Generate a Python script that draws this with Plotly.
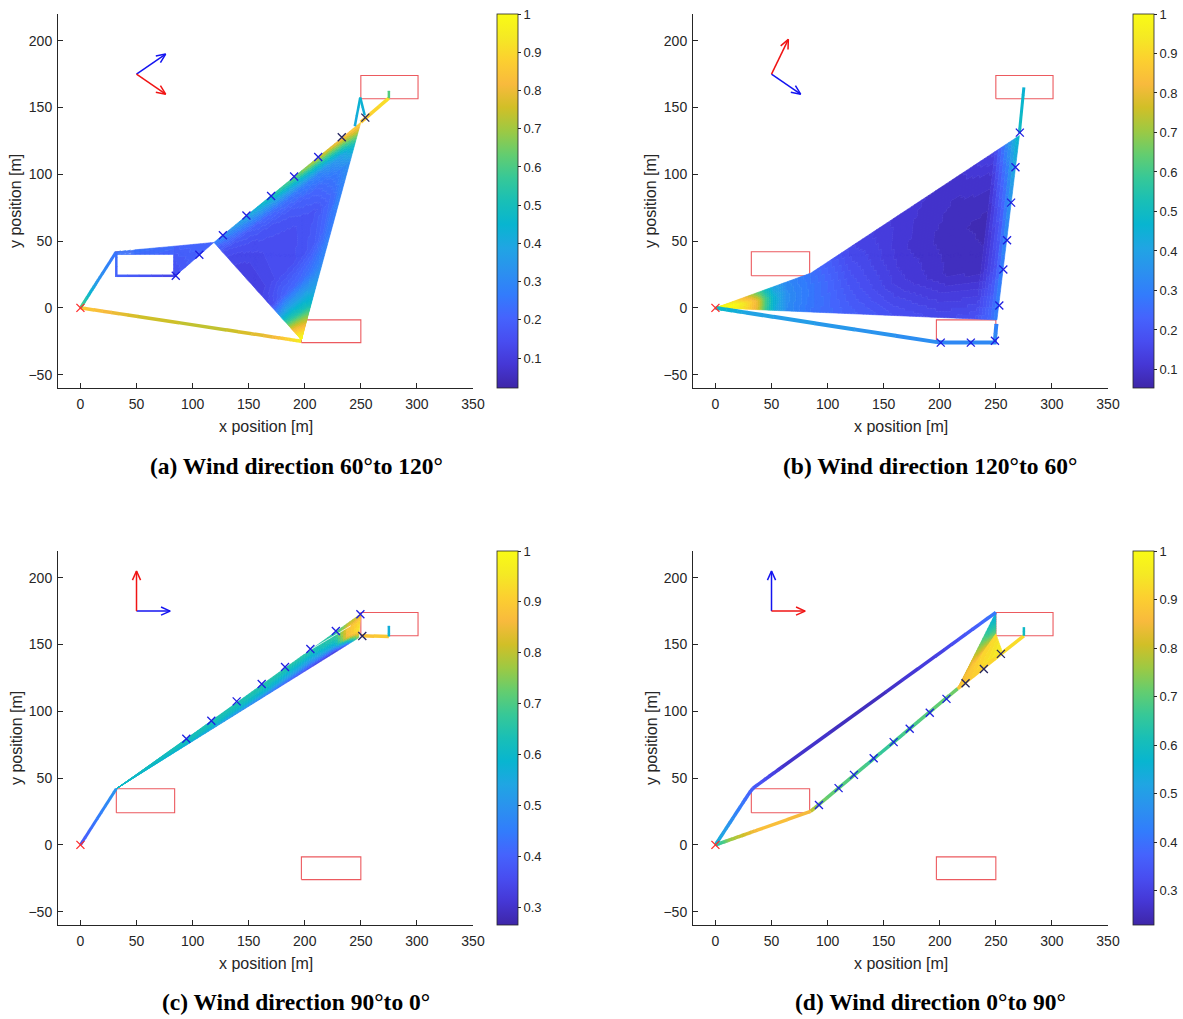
import numpy as np
import plotly.graph_objects as go
from collections import defaultdict

W, H = 1183, 1019

# ---------------- data ----------------
X_TICKS = [0, 50, 100, 150, 200, 250, 300, 350]
Y_TICKS = [-50, 0, 50, 100, 150, 200]
X_RANGE = [-20, 350]
Y_RANGE = [-60, 220]

CB_MIN = {"a": 0.022, "b": 0.053, "c": 0.265, "d": 0.229}
CB_MAX = 1.0
CB_TICKS_AB = [0.1, 0.2, 0.3, 0.4, 0.5, 0.6, 0.7, 0.8, 0.9, 1.0]
CB_TICKS_CD = [0.3, 0.4, 0.5, 0.6, 0.7, 0.8, 0.9, 1.0]

CAPTIONS = {
    "a": "(a) Wind direction 60°to 120°",
    "b": "(b) Wind direction 120°to 60°",
    "c": "(c) Wind direction 90°to 0°",
    "d": "(d) Wind direction 0°to 90°",
}

# obstacles (red rectangles)
OBS_X0 = [32, 197, 250]
OBS_X1 = [84, 250, 301]
OBS_Y0 = [24, -26, 156.5]
OBS_Y1 = [42, -9, 174]

START_X = [0]
START_Y = [0]

# wind direction arrows: origin, length, angles (deg) of blue / red arrows
ARROW_X0, ARROW_Y0, ARROW_LEN = 50, 175, 30
ARROW_BLUE_ANG = {"a": 30, "b": -30, "c": 0, "d": 90}
ARROW_RED_ANG = {"a": -30, "b": 60, "c": 90, "d": 0}

# ---- panel (a) ----
A_L1_X = [0, 8, 16, 32];            A_L1_Y = [0, 10.5, 21, 42];        A_L1_V = [0.62, 0.45, 0.33, 0.24]
A_L2_X = [32, 32, 85];              A_L2_Y = [42, 24, 24];             A_L2_V = [0.24, 0.2, 0.12]
A_L3_X = [0, 50, 120, 170, 197];    A_L3_Y = [0, -6.3, -15.2, -21.6, -25]; A_L3_V = [0.86, 0.76, 0.73, 0.8, 0.95]
A_L4_X = [244.6, 249.5, 253.5];     A_L4_Y = [136, 157.5, 144];        A_L4_V = [0.4, 0.45, 0.42]
A_L5_X = [250, 275];                A_L5_Y = [139, 157];               A_L5_V = [0.86, 0.92]
A_L6_X = [275, 275];                A_L6_Y = [157, 162.5];             A_L6_V = [0.62, 0.6]

A_F1A_C = [(32, 40), (83, 40), (32, 42.2), (83, 46.1)]
A_F1A_T = [0, 1]; A_F1A_S = [0, 1]
A_F1A_V = [[0.24, 0.2], [0.26, 0.22]]

A_F1B_C = [(83, 46.1), (83, 24), (119, 49), (85, 24)]
A_F1B_T = [0, 1]; A_F1B_S = [0, 1]
A_F1B_V = [[0.2, 0.14], [0.22, 0.17]]

A_F2_C = [(197, -24), (197, -24), (119, 49), (250, 139)]
A_F2_T = [0, 0.04, 0.1, 0.17, 0.25, 0.35, 0.5, 0.7, 0.82, 0.9, 0.95, 1.0]
A_F2_S = [0, 0.25, 0.5, 0.75, 0.9, 1.0]
A_F2_V = [
    [1.0, 1.0, 1.0, 1.0, 1.0, 1.0],
    [0.95, 0.93, 0.92, 0.9, 0.9, 0.9],
    [0.8, 0.78, 0.75, 0.72, 0.7, 0.68],
    [0.58, 0.55, 0.52, 0.5, 0.48, 0.45],
    [0.35, 0.38, 0.38, 0.38, 0.37, 0.36],
    [0.14, 0.2, 0.22, 0.25, 0.28, 0.3],
    [0.11, 0.14, 0.15, 0.18, 0.23, 0.28],
    [0.11, 0.14, 0.15, 0.17, 0.22, 0.29],
    [0.13, 0.16, 0.18, 0.22, 0.27, 0.33],
    [0.15, 0.2, 0.25, 0.3, 0.38, 0.5],
    [0.2, 0.3, 0.4, 0.5, 0.6, 0.7],
    [0.28, 0.42, 0.6, 0.78, 0.86, 0.9],
]

A_MK_X = [85, 106, 127, 148, 170, 190.5, 212, 233, 254]
A_MK_Y = [24, 39.7, 54.4, 69.1, 83.8, 98.3, 113, 127.7, 142.4]
A_MK_DARK = 2

# ---- panel (b) ----
B_L1_X = [0, 30, 200, 249, 250.5];  B_L1_Y = [0, -3.9, -26, -26, -12]; B_L1_V = [0.5, 0.4, 0.33, 0.33, 0.3]
B_L2_X = [271, 275];                B_L2_Y = [131, 165];                B_L2_V = [0.5, 0.46]

B_F1_C = [(0, 0), (0, 0), (85, -3.1), (85, 26)]
B_F1_T = [0, 0.05, 0.2, 0.35, 0.44, 0.52, 0.61, 0.75, 1.0]
B_F1_S = [0, 0.5, 1]
B_F1_V = [
    [0.95, 0.95, 0.95],
    [1.0, 1.0, 0.98],
    [0.98, 1.0, 0.9],
    [0.88, 0.9, 0.75],
    [0.78, 0.8, 0.62],
    [0.6, 0.62, 0.5],
    [0.45, 0.46, 0.4],
    [0.33, 0.34, 0.32],
    [0.27, 0.28, 0.27],
]

B_F2_C = [(85, -3.1), (85, 26), (251, -9), (271, 129)]
B_F2_T = [0, 0.2, 0.45, 0.7, 0.88, 0.96, 1.0]
B_F2_S = [0, 0.3, 0.6, 0.85, 1.0]
B_F2_V = [
    [0.27, 0.28, 0.28, 0.27, 0.26],
    [0.22, 0.2, 0.18, 0.16, 0.15],
    [0.18, 0.13, 0.11, 0.11, 0.11],
    [0.16, 0.09, 0.08, 0.09, 0.1],
    [0.18, 0.08, 0.07, 0.1, 0.14],
    [0.24, 0.18, 0.22, 0.3, 0.38],
    [0.3, 0.32, 0.37, 0.44, 0.5],
]

B_MK_X = [200.9, 227.7, 249.2, 253.1, 256.7, 260, 263.6, 267.5, 271.4]
B_MK_Y = [-26, -26, -24.6, 1.8, 28.7, 50.6, 78.8, 105.3, 131.2]
B_MK_DARK = 0

# ---- panel (c) ----
C_L1_X = [0, 16, 32];     C_L1_Y = [0, 21, 42];        C_L1_V = [0.38, 0.45, 0.5]
C_L2_X = [251, 275];      C_L2_Y = [156.5, 156];       C_L2_V = [0.88, 0.9]
C_L3_X = [275, 275];      C_L3_Y = [156, 164];         C_L3_V = [0.58, 0.56]
C_WHITE_X = [199, 241];   C_WHITE_Y = [143, 164]

C_F1_C = [(32, 42), (32, 42), (248, 155), (250, 173)]
C_F1_T = [0, 0.3, 0.6, 0.8, 0.9, 0.95, 1.0]
C_F1_S = [0, 0.35, 0.7, 1.0]
C_F1_V = [
    [0.6, 0.6, 0.6, 0.6],
    [0.55, 0.61, 0.63, 0.63],
    [0.45, 0.58, 0.63, 0.65],
    [0.34, 0.5, 0.6, 0.65],
    [0.3, 0.56, 0.66, 0.67],
    [0.36, 0.85, 0.88, 0.78],
    [0.75, 0.95, 0.92, 0.8],
]

C_MK_X = [94.4, 116.7, 139.3, 161.6, 182.4, 205, 227.7, 249.6, 251.3]
C_MK_Y = [79.4, 92.9, 107.4, 120.4, 133.1, 146.6, 160.1, 172.6, 156.4]
C_MK_DARK = 1

# ---- panel (d) ----
D_L1_X = [0, 16, 32.7, 60, 140, 200, 235, 250]
D_L1_Y = [0, 20.6, 42, 58.6, 107.2, 143.6, 164.9, 174]
D_L1_V = [0.55, 0.45, 0.36, 0.27, 0.25, 0.3, 0.37, 0.42]
D_L2_X = [0, 12, 40, 84.8];        D_L2_Y = [0, 3.5, 11.8, 25];      D_L2_V = [0.6, 0.75, 0.87, 0.85]
D_L3_X = [84.8, 92, 150, 216];     D_L3_Y = [25, 30, 70.7, 117];     D_L3_V = [0.8, 0.72, 0.66, 0.72]
D_L4_X = [216, 256, 275];          D_L4_Y = [117, 144, 156.5];       D_L4_V = [0.88, 0.93, 0.93]
D_L5_X = [275, 275];               D_L5_Y = [156.5, 163];            D_L5_V = [0.6, 0.58]

D_F1_C = [(216, 117), (216, 117), (256, 144), (250, 158)]
D_F1_T = [0, 0.5, 1]; D_F1_S = [0, 1]
D_F1_V = [[0.85, 0.85], [0.92, 0.9], [0.97, 0.92]]

D_F2_C = [(216, 117), (216, 117), (250, 158), (250, 174)]
D_F2_T = [0, 0.4, 0.65, 0.85, 1.0]; D_F2_S = [0, 0.5, 1]
D_F2_V = [[0.85, 0.85, 0.85], [0.9, 0.85, 0.8], [0.85, 0.75, 0.68],
          [0.78, 0.65, 0.58], [0.7, 0.6, 0.52]]

D_MK_X = [92.3, 109.8, 123.5, 141.1, 158.9, 173.2, 191.1, 206, 223, 239.3, 254.5]
D_MK_Y = [29.8, 42.5, 52.4, 64.9, 76.9, 86.9, 98.9, 109.3, 121, 131.7, 143]
D_MK_DARK = 3

# ---------------- style ----------------
PARULA = [
    (0.2422, 0.1504, 0.6603), (0.2706, 0.2147, 0.8364), (0.2813, 0.3006, 0.9414),
    (0.2699, 0.3892, 0.9906), (0.1963, 0.4847, 0.9892), (0.1687, 0.5703, 0.9359),
    (0.1248, 0.6459, 0.8883), (0.0297, 0.7082, 0.8163), (0.0964, 0.7500, 0.7120),
    (0.2161, 0.7843, 0.5923), (0.3909, 0.8029, 0.4354), (0.6174, 0.7876, 0.2612),
    (0.8203, 0.7498, 0.1535), (0.9728, 0.7298, 0.2394), (0.9892, 0.8136, 0.1885),
    (0.9597, 0.9135, 0.1423), (0.9769, 0.9839, 0.0805),
]
PAR = np.array(PARULA)
PPOS = np.linspace(0, 1, len(PARULA))
COLORSCALE = [[float(p), "rgb(%d,%d,%d)" % tuple(int(round(c * 255)) for c in col)]
              for p, col in zip(PPOS, PARULA)]


def parula_hex(u):
    u = min(max(u, 0.0), 1.0)
    r = np.interp(u, PPOS, PAR[:, 0]); g = np.interp(u, PPOS, PAR[:, 1]); b = np.interp(u, PPOS, PAR[:, 2])
    return "rgb(%d,%d,%d)" % (int(round(r * 255)), int(round(g * 255)), int(round(b * 255)))


NB = 64
AX = {"a": ("x", "y"), "b": ("x2", "y2"), "c": ("x3", "y3"), "d": ("x4", "y4")}
DOM = {"a": ([58, 473], [14, 388]), "b": ([693, 1108], [14, 388]),
       "c": ([58, 473], [551, 925]), "d": ([693, 1108], [551, 925])}
CB_X = {"a": 497, "b": 1133, "c": 497, "d": 1133}
SX = 415.0 / 370.0
SY = 374.0 / 280.0
FONT = "Liberation Sans, Arial, Helvetica, sans-serif"
AXC = "#262626"

fills = {p: defaultdict(list) for p in AX}
lines = {p: defaultdict(list) for p in AX}


def bucket(p, v):
    u = (v - CB_MIN[p]) / (CB_MAX - CB_MIN[p])
    u = min(max(u, 0.0), 1.0)
    return int(round(u * (NB - 1)))


def add_patch(p, corners, T, S, V, nt, ns):
    P0, P1, Q0, Q1 = [np.array(c, dtype=float) for c in corners]
    T = np.array(T, float); S = np.array(S, float); V = np.array(V, float)

    def pos(t, s):
        return (1 - t) * ((1 - s) * P0 + s * P1) + t * ((1 - s) * Q0 + s * Q1)

    def val(t, s):
        row = [np.interp(s, S, V[i]) for i in range(len(T))]
        return np.interp(t, T, row)

    tt = np.linspace(0, 1, nt + 1); ss = np.linspace(0, 1, ns + 1)
    for i in range(nt):
        for j in range(ns):
            t0, t1, s0, s1 = tt[i], tt[i + 1], ss[j], ss[j + 1]
            pts = [pos(t0, s0), pos(t0, s1), pos(t1, s1), pos(t1, s0)]
            k = bucket(p, val(0.5 * (t0 + t1), 0.5 * (s0 + s1)))
            fills[p][k].append(pts)


def add_path(p, xs, ys, vs, width, step=1.0):
    pts, vals = [], []
    for i in range(len(xs) - 1):
        x0, y0, x1, y1 = xs[i], ys[i], xs[i + 1], ys[i + 1]
        n = max(1, int(np.ceil(np.hypot(x1 - x0, y1 - y0) / step)))
        for j in range(n):
            a = j / n
            pts.append(np.array([x0 + a * (x1 - x0), y0 + a * (y1 - y0)]))
            vals.append(vs[i] + a * (vs[i + 1] - vs[i]))
    pts.append(np.array([xs[-1], ys[-1]], float)); vals.append(vs[-1])
    kcur = bucket(p, 0.5 * (vals[0] + vals[1]))
    run = [pts[0]]
    for i in range(len(pts) - 1):
        k = bucket(p, 0.5 * (vals[i] + vals[i + 1]))
        if k != kcur:
            ov = pts[i] + 0.4 * (pts[i + 1] - pts[i])
            lines[p][(kcur, width)].append(run + [ov])
            run = [pts[i]]
            kcur = k
        run.append(pts[i + 1])
    lines[p][(kcur, width)].append(run)


# ----- build geometry -----
add_patch("a", A_F1A_C, A_F1A_T, A_F1A_S, A_F1A_V, 6, 12)
add_patch("a", A_F1B_C, A_F1B_T, A_F1B_S, A_F1B_V, 12, 8)
add_patch("a", A_F2_C, A_F2_T, A_F2_S, A_F2_V, 80, 40)
add_path("a", A_L1_X, A_L1_Y, A_L1_V, 3)
add_path("a", A_L2_X, A_L2_Y, A_L2_V, 2.5)
add_path("a", A_L3_X, A_L3_Y, A_L3_V, 3.5)
add_path("a", A_L4_X, A_L4_Y, A_L4_V, 2.5)
add_path("a", A_L5_X, A_L5_Y, A_L5_V, 3.5)
add_path("a", A_L6_X, A_L6_Y, A_L6_V, 2.5)

add_patch("b", B_F1_C, B_F1_T, B_F1_S, B_F1_V, 50, 10)
add_patch("b", B_F2_C, B_F2_T, B_F2_S, B_F2_V, 60, 45)
add_path("b", B_L1_X, B_L1_Y, B_L1_V, 4)
add_path("b", B_L2_X, B_L2_Y, B_L2_V, 3)

add_patch("c", C_F1_C, C_F1_T, C_F1_S, C_F1_V, 90, 14)
add_path("c", C_L1_X, C_L1_Y, C_L1_V, 3)
add_path("c", C_L2_X, C_L2_Y, C_L2_V, 3.5)
add_path("c", C_L3_X, C_L3_Y, C_L3_V, 2.5)

add_patch("d", D_F1_C, D_F1_T, D_F1_S, D_F1_V, 20, 10)
add_patch("d", D_F2_C, D_F2_T, D_F2_S, D_F2_V, 24, 12)
add_path("d", D_L1_X, D_L1_Y, D_L1_V, 3.5)
add_path("d", D_L2_X, D_L2_Y, D_L2_V, 3.5)
add_path("d", D_L3_X, D_L3_Y, D_L3_V, 3.5)
add_path("d", D_L4_X, D_L4_Y, D_L4_V, 3.5)
add_path("d", D_L5_X, D_L5_Y, D_L5_V, 2.5)

MARKERS = {"a": (A_MK_X, A_MK_Y, A_MK_DARK), "b": (B_MK_X, B_MK_Y, B_MK_DARK),
           "c": (C_MK_X, C_MK_Y, C_MK_DARK), "d": (D_MK_X, D_MK_Y, D_MK_DARK)}

fig = go.Figure()

for p, (xa, ya) in AX.items():
    rx, ry = [], []
    for x0, x1, y0, y1 in zip(OBS_X0, OBS_X1, OBS_Y0, OBS_Y1):
        rx += [x0, x1, x1, x0, x0, None]
        ry += [y0, y0, y1, y1, y0, None]
    fig.add_trace(go.Scatter(x=rx, y=ry, mode="lines", line=dict(color="rgb(236,90,95)", width=1.1),
                             xaxis=xa, yaxis=ya, hoverinfo="skip"))
    for k in sorted(fills[p]):
        col = parula_hex(k / (NB - 1))
        fx, fy = [], []
        for pts in fills[p][k]:
            for q in pts:
                fx.append(round(float(q[0]), 2)); fy.append(round(float(q[1]), 2))
            fx += [round(float(pts[0][0]), 2), None]; fy += [round(float(pts[0][1]), 2), None]
        fig.add_trace(go.Scatter(x=fx, y=fy, mode="lines", fill="toself", fillcolor=col,
                                 line=dict(color=col, width=0.6), xaxis=xa, yaxis=ya, hoverinfo="skip"))
    for (k, wdt) in sorted(lines[p], key=lambda kw: (-kw[1], kw[0])):
        col = parula_hex(k / (NB - 1))
        lx, ly = [], []
        for run in lines[p][(k, wdt)]:
            for q in run:
                lx.append(round(float(q[0]), 2)); ly.append(round(float(q[1]), 2))
            lx.append(None); ly.append(None)
        fig.add_trace(go.Scatter(x=lx, y=ly, mode="lines", line=dict(color=col, width=wdt),
                                 xaxis=xa, yaxis=ya, hoverinfo="skip"))
    if p == "c":
        fig.add_trace(go.Scatter(x=C_WHITE_X, y=C_WHITE_Y, mode="lines",
                                 line=dict(color="rgba(255,255,255,0.75)", width=1),
                                 xaxis=xa, yaxis=ya, hoverinfo="skip"))
    mx, my, nd = MARKERS[p]
    cols = ["#1e1ee0"] * (len(mx) - nd) + ["#252560"] * nd
    fig.add_trace(go.Scatter(x=mx, y=my, mode="markers",
                             marker=dict(symbol="x-thin", size=8, line=dict(width=1.3, color=cols)),
                             xaxis=xa, yaxis=ya, hoverinfo="skip"))
    fig.add_trace(go.Scatter(x=START_X, y=START_Y, mode="markers",
                             marker=dict(symbol="x-thin", size=8, line=dict(width=1.3, color="#ff2a2a")),
                             xaxis=xa, yaxis=ya, hoverinfo="skip"))
    for ang, col in ((ARROW_BLUE_ANG[p], "#1414f0"), (ARROW_RED_ANG[p], "#f01414")):
        a = np.radians(ang)
        tx, ty = ARROW_X0 + ARROW_LEN * np.cos(a), ARROW_Y0 + ARROW_LEN * np.sin(a)
        dxp, dyp = np.cos(a) * ARROW_LEN * SX, np.sin(a) * ARROW_LEN * SY
        nrm = np.hypot(dxp, dyp); ux, uy = dxp / nrm, dyp / nrm
        hl, ha = 10.0, np.radians(24)
        heads = []
        for sg in (1, -1):
            c, s = np.cos(sg * ha), np.sin(sg * ha)
            bx, by = -(ux * c - uy * s), -(ux * s + uy * c)
            heads.append((tx + hl * bx / SX, ty + hl * by / SY))
        fig.add_trace(go.Scatter(x=[ARROW_X0, tx, None, heads[0][0], tx, heads[1][0]],
                                 y=[ARROW_Y0, ty, None, heads[0][1], ty, heads[1][1]],
                                 mode="lines", line=dict(color=col, width=1.5),
                                 xaxis=xa, yaxis=ya, hoverinfo="skip"))
    ticks = CB_TICKS_AB if p in ("a", "b") else CB_TICKS_CD
    (x0p, x1p), (y0p, y1p) = DOM[p]
    fig.add_trace(go.Scatter(
        x=[-100], y=[-100], mode="markers", xaxis=xa, yaxis=ya, hoverinfo="skip",
        marker=dict(size=1, color=[CB_MIN[p]], cmin=CB_MIN[p], cmax=CB_MAX, colorscale=COLORSCALE,
                    showscale=True,
                    colorbar=dict(x=CB_X[p] / W, xanchor="left", y=1 - y1p / H, yanchor="bottom",
                                  len=(y1p - y0p) / H, lenmode="fraction", thickness=21,
                                  thicknessmode="pixels", xpad=0, ypad=0, outlinewidth=0.8,
                                  outlinecolor=AXC, ticks="outside", ticklen=3, tickcolor=AXC,
                                  tickvals=ticks, ticktext=[("%g" % t) for t in ticks],
                                  tickfont=dict(family=FONT, size=13, color=AXC)))))

layout = dict(width=W, height=H, autosize=False,
              margin=dict(l=0, r=0, t=0, b=0, pad=0, autoexpand=False),
              paper_bgcolor="white", plot_bgcolor="white", showlegend=False)
annotations = []
for idx, p in enumerate(["a", "b", "c", "d"]):
    (x0p, x1p), (y0p, y1p) = DOM[p]
    sfx = "" if idx == 0 else str(idx + 1)
    common = dict(showgrid=False, zeroline=False, showline=True, linecolor=AXC, linewidth=1,
                  ticks="inside", ticklen=5, tickwidth=0.8, tickcolor=AXC, fixedrange=True,
                  tickfont=dict(family=FONT, size=14, color=AXC))
    layout["xaxis" + sfx] = dict(domain=[x0p / W, x1p / W], range=X_RANGE, tickvals=X_TICKS,
                                 anchor="y" + sfx, ticklabelstandoff=3, **common)
    layout["yaxis" + sfx] = dict(domain=[1 - y1p / H, 1 - y0p / H], range=Y_RANGE, tickvals=Y_TICKS,
                                 anchor="x" + sfx, ticklabelstandoff=2, **common)
    cx = (x0p + x1p) / 2
    cy = (y0p + y1p) / 2
    annotations.append(dict(text="x position [m]", x=cx / W, y=1 - (y1p + 38) / H, xref="paper",
                            yref="paper", showarrow=False, xanchor="center", yanchor="middle",
                            font=dict(family=FONT, size=16, color=AXC)))
    annotations.append(dict(text="y position [m]", x=(x0p - 42) / W, y=1 - cy / H, xref="paper",
                            yref="paper", showarrow=False, xanchor="center", yanchor="middle",
                            textangle=-90, font=dict(family=FONT, size=16, color=AXC)))
    capx = 296 if p in ("a", "c") else 930
    capy = 466 if p in ("a", "b") else 1002
    annotations.append(dict(text="<b>%s</b>" % CAPTIONS[p], x=capx / W, y=1 - capy / H, xref="paper",
                            yref="paper", showarrow=False, xanchor="center", yanchor="middle",
                            font=dict(family="Liberation Serif, Times New Roman, serif", size=23.5,
                                      color="black")))
layout["annotations"] = annotations
fig.update_layout(**layout)

POST = ("document.body.style.margin='0';document.body.style.padding='0';"
        "document.body.style.overflow='hidden';"
        "var gd=document.getElementById('{plot_id}');"
        "gd.style.position='absolute';gd.style.left='0px';gd.style.top='0px';"
        "Plotly.relayout(gd,{width:%d,height:%d});" % (W, H))
fig.write_html("out.html", config={"responsive": False, "displayModeBar": False}, post_script=POST)
